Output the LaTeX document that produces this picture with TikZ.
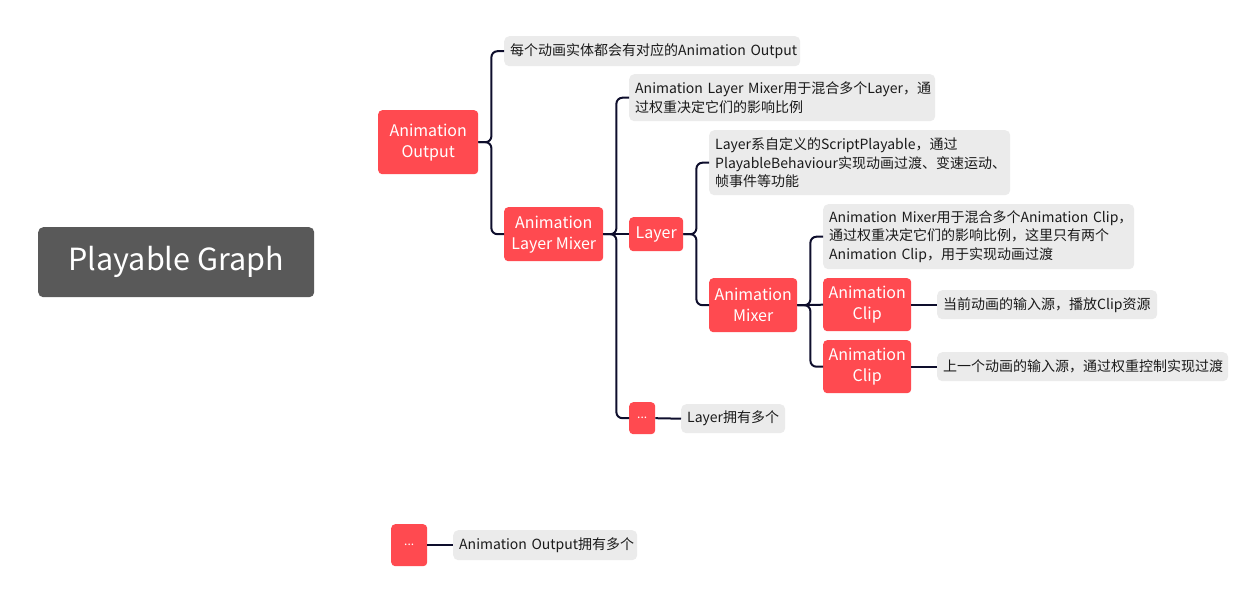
\documentclass[tikz,border=0pt]{standalone}
\usepackage{fontspec}
\setmainfont{Noto Sans CJK SC}
\definecolor{redc}{HTML}{FF4A50}
\definecolor{noteg}{HTML}{EBEBEB}
\definecolor{connc}{HTML}{0E0E2C}
\definecolor{pgc}{HTML}{595959}
\definecolor{txt}{HTML}{1A1A1A}
\tikzset{
  redbox/.style={fill=redc, text=white, rounded corners=4pt, inner sep=0pt, align=center,
    anchor=north west, font=\fontsize{16}{21}\selectfont},
  notebox/.style={fill=noteg, text=txt, rounded corners=5pt, inner xsep=6pt, inner ysep=0pt,
    align=left, anchor=north west, font=\fontsize{14}{18.3}\selectfont},
  conn/.style={draw=connc, line width=2pt, rounded corners=6pt},
}
\begin{document}
\begin{tikzpicture}[x=1pt,y=-1pt]
\useasboundingbox (0,0) rectangle (1250,591);
% root
\node[fill=pgc, text=white, rounded corners=5pt, inner sep=0pt, anchor=north west,
  minimum width=276pt, minimum height=70pt, font=\fontsize{30.5}{36}\selectfont] (pg) at (38,227) {Playable Graph};
% nodes
\node[redbox, minimum width=100pt, minimum height=64pt] (ao) at (378,110) {Animation\\Output};
\node[notebox, minimum height=30pt, text width=284pt] (n1) at (504,36) {\mbox{每个动画实体都会有对应的Animation Output}};
\node[redbox, minimum width=99pt, minimum height=54pt] (alm) at (504,207) {Animation\\Layer Mixer};
\node[notebox, minimum height=47pt, text width=294pt] (n2) at (629,74) {\mbox{Animation Layer Mixer用于混合多个Layer，通}\\\mbox{过权重决定它们的影响比例}};
\node[redbox, minimum width=54pt, minimum height=34pt] (layer) at (629,217) {Layer};
\node[notebox, minimum height=65pt, text width=289pt] (n3) at (709,130) {\mbox{Layer系自定义的ScriptPlayable，通过}\\\mbox{PlayableBehaviour实现动画过渡、变速运动、}\\\mbox{帧事件等功能}};
\node[redbox, minimum width=88pt, minimum height=54pt] (am) at (709,278) {Animation\\Mixer};
\node[notebox, minimum height=65pt, text width=299pt] (n4) at (823,204) {\mbox{Animation Mixer用于混合多个Animation Clip，}\\\mbox{通过权重决定它们的影响比例，这里只有两个}\\\mbox{Animation Clip，用于实现动画过渡}};
\node[redbox, minimum width=88pt, minimum height=53pt] (c1) at (823,278) {Animation\\Clip};
\node[notebox, minimum height=29pt, text width=208pt] (n5) at (937,290) {\mbox{当前动画的输入源，播放Clip资源}};
\node[redbox, minimum width=88pt, minimum height=53pt] (c2) at (823,340) {Animation\\Clip};
\node[notebox, minimum height=29pt, text width=279pt] (n6) at (937,352) {\mbox{上一个动画的输入源，通过权重控制实现过渡}};
\node[redbox, minimum width=26pt, minimum height=32pt, font=\fontsize{12}{14}\selectfont] (d1) at (629,402) {...};
\node[notebox, minimum height=29pt, text width=92pt] (n7) at (681,404) {\mbox{Layer拥有多个}};
\node[redbox, minimum width=36pt, minimum height=42pt, font=\fontsize{12}{14}\selectfont] (d2) at (391,524) {...};
\node[notebox, minimum height=30pt, text width=172pt] (n8) at (453,530) {\mbox{Animation Output拥有多个}};
% connectors
\draw[conn] (ao.east) -- ++(13,0) |- (n1.west);
\draw[conn] (ao.east) -- ++(13,0) |- (alm.west);
\draw[conn] (alm.east) -- ++(13,0) |- (n2.west);
\draw[conn] (alm.east) -- (layer.west);
\draw[conn] (alm.east) -- ++(13,0) |- (d1.west);
\draw[conn] (layer.east) -- ++(13,0) |- (n3.west);
\draw[conn] (layer.east) -- ++(13,0) |- (am.west);
\draw[conn] (am.east) -- ++(13,0) |- (n4.west);
\draw[conn] (am.east) -- (c1.west);
\draw[conn] (am.east) -- ++(13,0) |- (c2.west);
\draw[conn] (c1.east) -- (n5.west);
\draw[conn] (c2.east) -- (n6.west);
\draw[conn] (d1.east) -- (n7.west);
\draw[conn] (d2.east) -- (n8.west);
\end{tikzpicture}
\end{document}
